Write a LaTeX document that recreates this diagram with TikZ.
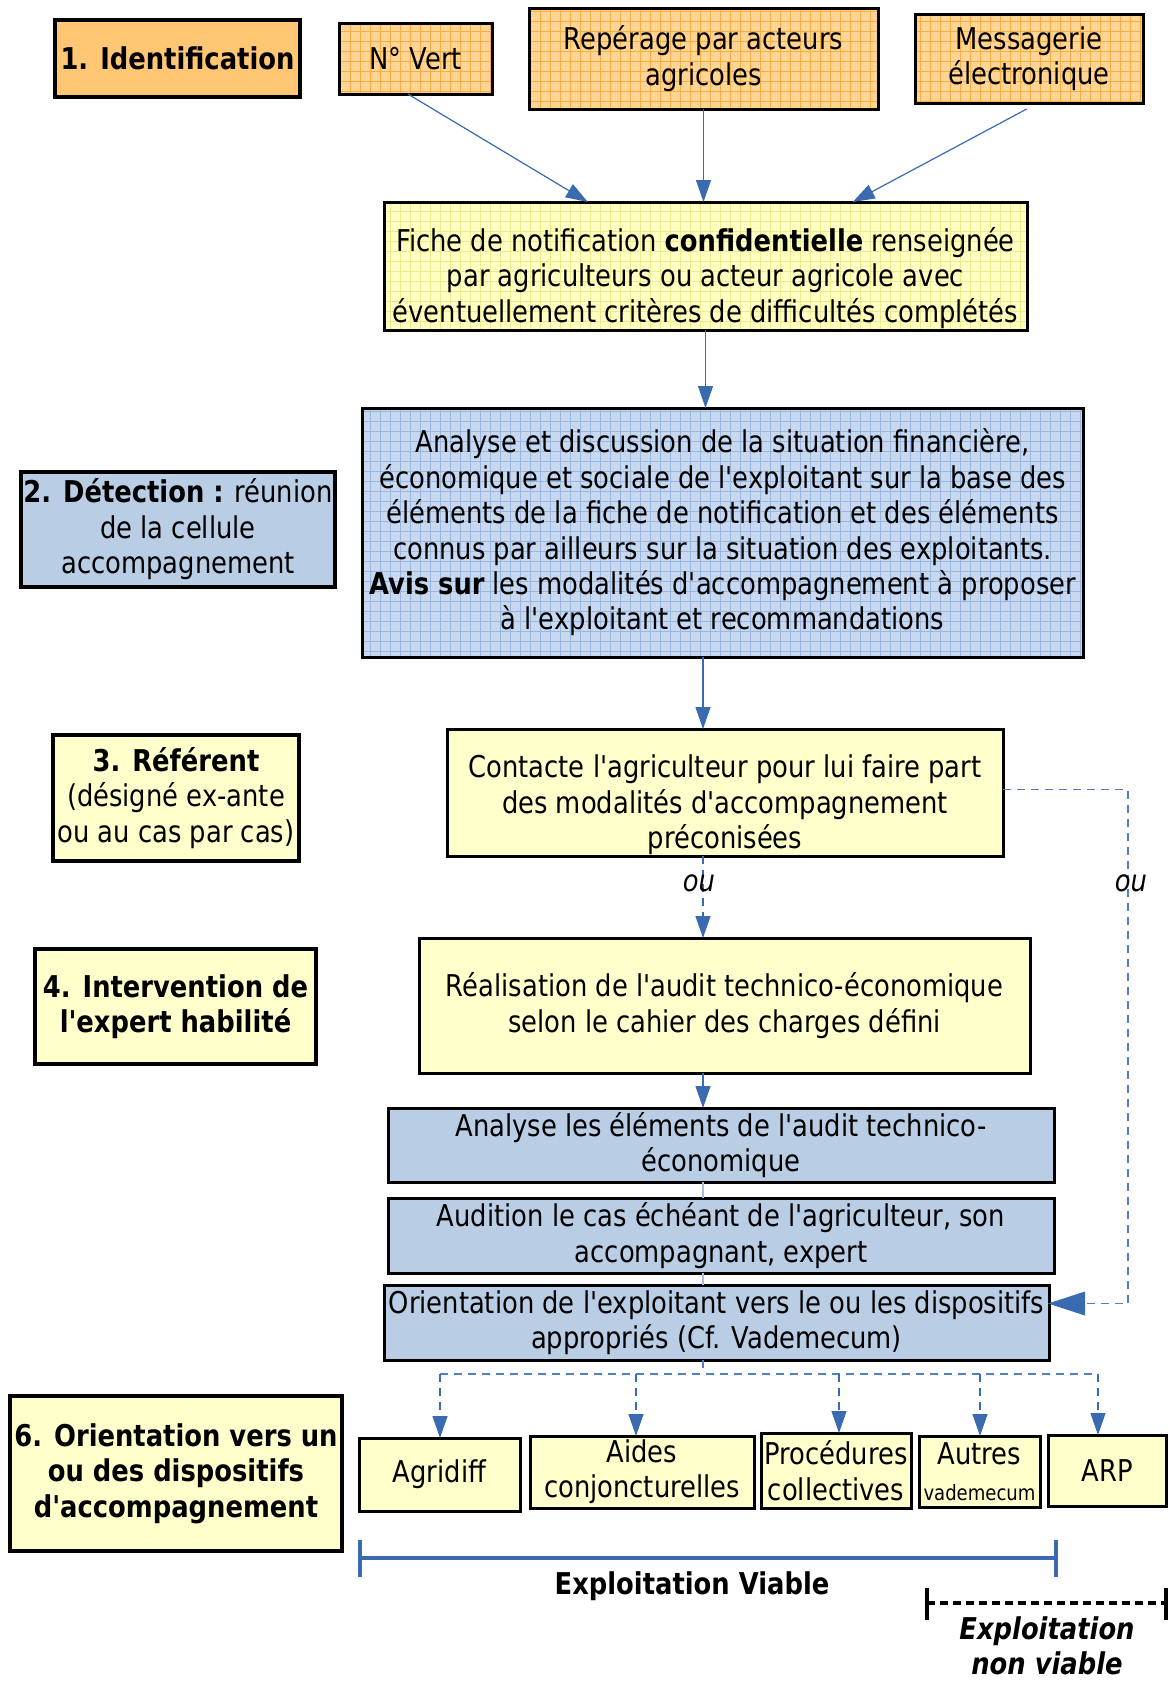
\documentclass[tikz,border=0pt]{standalone}
\usepackage{fontspec}
\setmainfont{DejaVu Sans}[FakeStretch=0.86, Ligatures=TeXOff]
\usetikzlibrary{arrows.meta,patterns.meta,calc}
\definecolor{orangeplain}{HTML}{FFC673}
\definecolor{orangebase}{HTML}{FFD596}
\definecolor{orangegrid}{HTML}{F8AE45}
\definecolor{yellowplain}{HTML}{FFFFCC}
\definecolor{yellowbase}{HTML}{FFFFC4}
\definecolor{yellowgrid}{HTML}{EEEA8E}
\definecolor{blueplain}{HTML}{B9CDE5}
\definecolor{bluebase}{HTML}{C8D9EF}
\definecolor{bluegrid}{HTML}{98B6DE}
\definecolor{arrblue}{HTML}{3A6BB0}
\definecolor{dashblue}{HTML}{4F80C4}
\definecolor{spineblue}{HTML}{A9BEDB}
\begin{document}
\begin{tikzpicture}[x=0.5pt,y=-0.5pt,
  every node/.style={inner sep=0pt, outer sep=0pt, align=center,
    font=\fontsize{15pt}{17.7pt}\selectfont},
  box/.style={draw=black, line width=1.5pt, rectangle},
  stepbox/.style={draw=black, line width=2pt, rectangle},
  gridded/.style 2 args={preaction={fill=#1},
    preaction={pattern color=#2, pattern={Lines[angle=0,distance=5pt,line width=0.35pt]}},
    preaction={pattern color=#2, pattern={Lines[angle=90,distance=5pt,line width=0.35pt]}}},
  ogrid/.style={gridded={orangebase}{orangegrid}},
  ygrid/.style={gridded={yellowbase}{yellowgrid}},
  bgrid/.style={gridded={bluebase}{bluegrid}},
  arr/.style={draw=arrblue, line width=0.6pt, -{Triangle[length=11pt,width=7.5pt]}},
  dsh/.style={draw=dashblue, line width=0.6pt, dash pattern=on 4pt off 3pt},
  dsharr/.style={dsh, -{Triangle[length=11pt,width=7.5pt]}, arrblue},
  spine/.style={draw=spineblue, line width=0.6pt},
  outxt/.style={font=\fontsize{15pt}{17.7pt}\selectfont\itshape},
  viab/.style={draw=arrblue, line width=2pt},
  nonviab/.style={draw=black, line width=2pt}
]
\clip (0,0) rectangle (1168,1681);
\fill[white] (0,0) rectangle (1168,1681);

% ---- row 1
\node[stepbox, fill=orangeplain, minimum width=122.5pt, minimum height=38.5pt] (ident) at (177.5,58.5) {\textbf{1. Identification}};
\node[box, ogrid, minimum width=76.5pt, minimum height=35.5pt] (vert) at (415.5,58.5) {N° Vert};
\node[box, ogrid, minimum width=174.5pt, minimum height=50.5pt] (reperage) at (703.5,58.5) {Repérage par acteurs\\agricoles};
\node[box, ogrid, minimum width=114pt, minimum height=44.5pt] (messagerie) at (1029,58.5) {Messagerie\\électronique};

\node[box, ygrid, minimum width=321.5pt, minimum height=64pt] (fiche) at (705.5,266) {\rule{0pt}{24pt}Fiche de notification \textbf{confidentielle} renseignée\\par agriculteurs ou acteur agricole avec\\éventuellement critères de difficultés complétés};

% ---- row 2
\node[stepbox, fill=blueplain, minimum width=157pt, minimum height=57.5pt] (detection) at (178,529.5) {\textbf{2. Détection :} réunion\\de la cellule\\accompagnement};
\node[box, bgrid, minimum width=360.5pt, minimum height=124.5pt] (analyse) at (722.5,532.5) {Analyse et discussion de la situation financière,\\économique et sociale de l'exploitant sur la base des\\éléments de la fiche de notification et des éléments\\connus par ailleurs sur la situation des exploitants.\\\textbf{Avis sur} les modalités d'accompagnement à proposer\\à l'exploitant et recommandations};

% ---- row 3
\node[stepbox, fill=yellowplain, minimum width=123pt, minimum height=63pt] (referent) at (176,798) {\textbf{3. Référent}\\(désigné ex-ante\\ou au cas par cas)};
\node[box, fill=yellowplain, minimum width=278pt, minimum height=63.5pt] (contacte) at (725,792.5) {\rule{0pt}{24pt}Contacte l'agriculteur pour lui faire part\\des modalités d'accompagnement\\préconisées};

% ---- row 4
\node[stepbox, fill=yellowplain, minimum width=140.5pt, minimum height=57.5pt] (intervention) at (175.5,1006.5) {\textbf{4. Intervention de}\\\textbf{l'expert habilité}};
\node[box, fill=yellowplain, minimum width=305.5pt, minimum height=67.5pt] (realisation) at (724.5,1005.5) {Réalisation de l'audit technico-économique\\selon le cahier des charges défini};

% ---- blue stack
\node[box, fill=blueplain, minimum width=333pt, minimum height=37pt] (analyseaudit) at (721,1145) {Analyse les éléments de l'audit technico-\\économique};
\node[box, fill=blueplain, minimum width=333pt, minimum height=37.5pt] (audition) at (721,1235.5) {Audition le cas échéant de l'agriculteur, son\\accompagnant, expert};
\node[box, fill=blueplain, minimum width=332.5pt, minimum height=37.5pt] (orientation) at (716.5,1322.5) {Orientation de l'exploitant vers le ou les dispositifs\\appropriés (Cf. Vademecum)};

% ---- row 6
\node[stepbox, fill=yellowplain, minimum width=166pt, minimum height=77.5pt] (orient6) at (176,1473.5) {\textbf{6. Orientation vers un}\\\textbf{ou des dispositifs}\\\textbf{d'accompagnement}};
\node[box, fill=yellowplain, minimum width=80.5pt, minimum height=36.5pt] (agridiff) at (439.5,1474.5) {Agridiff};
\node[box, fill=yellowplain, minimum width=112pt, minimum height=36pt] (aides) at (642,1472) {Aides\\conjoncturelles};
\node[box, fill=yellowplain, minimum width=75pt, minimum height=37.5pt] (procedures) at (836,1470.5) {Procédures\\collectives};
\node[box, fill=yellowplain, minimum width=60.5pt, minimum height=35.5pt] (autres) at (979.5,1471.5) {Autres\\{\fontsize{10.5pt}{13pt}\selectfont vademecum}};
\node[box, fill=yellowplain, minimum width=59pt, minimum height=35.5pt] (arp) at (1107,1470.5) {ARP};

% ---- connectors, top
\draw[arr] ($(vert.south west)!0.45!(vert.south east)$) -- ($(fiche.north west)!0.317!(fiche.north east)$);
\draw[arr] (reperage.south) -- (reperage.south |- fiche.north);
\draw[arr] ([yshift=-3pt]$(messagerie.south west)!0.49!(messagerie.south east)$) -- ($(fiche.north west)!0.729!(fiche.north east)$);
\draw[arr] (fiche.south) -- (fiche.south |- analyse.north);

\coordinate (spinex) at (703,0);
\draw[arr] (analyse.south -| spinex) -- (contacte.north -| spinex);
\draw[dsharr] (contacte.south -| spinex) -- (realisation.north -| spinex);
\node[outxt] (ou1) at (699,883) {ou};
\draw[arr] (realisation.south -| spinex) -- (analyseaudit.north -| spinex);
\draw[spine] (analyseaudit.south -| spinex) -- (audition.north -| spinex);
\draw[spine] (audition.south -| spinex) -- (orientation.north -| spinex);

% ---- right loop
\coordinate (rc) at (1128,789);
\coordinate (oe) at ([yshift=9.5pt]orientation.east);
\draw[dsh] ([yshift=1.5pt]contacte.east) -| (rc |- oe) -- ([xshift=17pt]oe);
\draw[draw=none, fill=arrblue] ([xshift=-0.5pt]oe) -- ([xshift=18pt, yshift=6pt]oe) -- ([xshift=18pt, yshift=-6pt]oe) -- cycle;
\node[outxt] (ou2) at (1131,883) {ou};

% ---- distribution
\coordinate (dist) at (703,1374);
\coordinate (d1) at (440,1374);
\coordinate (d2) at (636,1374);
\coordinate (d3) at (839,1374);
\coordinate (d4) at (980,1374);
\coordinate (d5) at (1098,1374);
\draw[dsh] (orientation.south -| spinex) -- (dist);
\draw[dsh] (d1) -- (d5);
\draw[dsharr] (d1) -- (d1 |- agridiff.north);
\draw[dsharr] (d2) -- (d2 |- aides.north);
\draw[dsharr] (d3) -- (d3 |- procedures.north);
\draw[dsharr] (d4) -- (d4 |- autres.north);
\draw[dsharr] (d5) -- (d5 |- arp.north);

% ---- viability brackets
\coordinate (vl) at (360,1558);
\coordinate (vr) at (1056,1558);
\draw[viab] (vl) -- (vr);
\draw[viab] ([yshift=9pt]vl) -- ([yshift=-9.5pt]vl);
\draw[viab] ([yshift=9pt]vr) -- ([yshift=-9.5pt]vr);
\node (viabletxt) at (692,1586) {\textbf{Exploitation Viable}};

\coordinate (nl) at (927,1603);
\coordinate (nr) at (1166,1603);
\draw[nonviab, dash pattern=on 4pt off 2.5pt] (nl) -- (nr);
\draw[nonviab] ([yshift=7.5pt]nl) -- ([yshift=-8.5pt]nl);
\draw[nonviab] ([yshift=7.5pt]nr) -- ([yshift=-8.5pt]nr);
\node (nonviabletxt) at (1047,1646) {\textbf{\textit{Exploitation}}\\\textbf{\textit{non viable}}};
\end{tikzpicture}
\end{document}
